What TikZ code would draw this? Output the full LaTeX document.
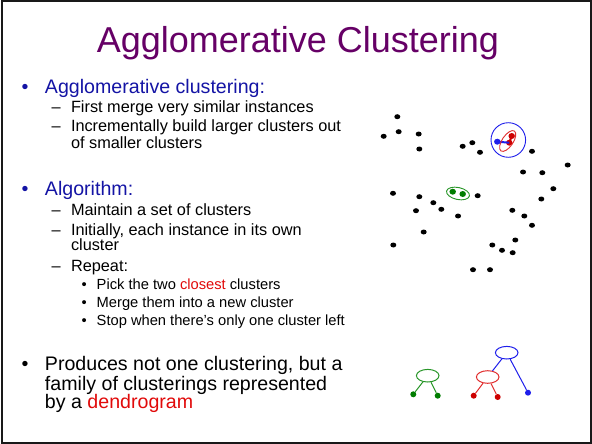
\documentclass[tikz,border=0pt]{standalone}
\usepackage{fontspec}
\setmainfont{Liberation Sans}
\usetikzlibrary{shapes.geometric}
\definecolor{titlepurple}{RGB}{102,0,102}
\definecolor{headblue}{RGB}{20,20,165}
\definecolor{hilite}{RGB}{225,10,10}
\definecolor{cblue}{RGB}{30,30,235}
\definecolor{cred}{RGB}{205,0,0}
\definecolor{credline}{RGB}{225,45,45}
\definecolor{cgreen}{RGB}{0,125,0}
\definecolor{cgreenline}{RGB}{40,150,40}
\tikzset{
  txt/.style={anchor=base west, inner sep=0pt, outer sep=0pt},
  lone/.style={txt, font=\fontsize{19.6}{23}\selectfont},
  ltwo/.style={txt, font=\fontsize{16.3}{19}\selectfont},
  lthree/.style={txt, font=\fontsize{14.7}{17}\selectfont},
  pt/.style={ellipse, fill=black, inner sep=0pt, minimum width=6pt, minimum height=5pt},
  leaf/.style={circle, inner sep=0pt, minimum size=6pt},
  cnode/.style={ellipse, draw, line width=1pt, inner sep=0pt, minimum width=22.6pt, minimum height=12.6pt},
  link/.style={line width=1pt}
}
\begin{document}
\begin{tikzpicture}[x=1pt, y=-1pt]
  % page and frame
  \fill[white] (0,0) rectangle (592,444);
  \useasboundingbox (0,0) rectangle (592,444);
  \draw[line width=2pt, black!90] (1.5,1.5) rectangle (590.5,442.5);

  % title
  \node[anchor=base, inner sep=0pt, text=titlepurple, font=\fontsize{36}{40}\selectfont]
    (title) at (298,53) {Agglomerative Clustering};

  % first block
  \node[lone, text=headblue] (b1) at (21.5,94) {•};
  \node[lone, text=headblue] (h1) at (45,94) {Agglomerative clustering:};
  \node[ltwo] (d1) at (51.5,112) {–};
  \node[ltwo] (t1) at (71,112) {First merge very similar instances};
  \node[ltwo] (d2) at (51.5,131) {–};
  \node[ltwo] (t2) at (71,131) {Incrementally build larger clusters out};
  \node[ltwo] (t2b) at (71,148) {of smaller clusters};

  % second block
  \node[lone, text=headblue] (b2) at (21.5,195) {•};
  \node[lone, text=headblue] (h2) at (45,195) {Algorithm:};
  \node[ltwo] (d3) at (51.5,215.5) {–};
  \node[ltwo] (t3) at (71,215.5) {Maintain a set of clusters};
  \node[ltwo] (d4) at (51.5,235) {–};
  \node[ltwo] (t4) at (71,235) {Initially, each instance in its own};
  \node[ltwo] (t4b) at (71,250) {cluster};
  \node[ltwo] (d5) at (51.5,271) {–};
  \node[ltwo] (t5) at (71,271) {Repeat:};
  \node[lthree] (s1) at (81.5,289) {•};
  \node[lthree] (u1) at (96.7,289) {Pick the two \textcolor{hilite}{closest} clusters};
  \node[lthree] (s2) at (81.5,307) {•};
  \node[lthree] (u2) at (96.7,307) {Merge them into a new cluster};
  \node[lthree] (s3) at (81.5,325) {•};
  \node[lthree] (u3) at (96.7,325) {Stop when there’s only one cluster left};

  % third block
  \node[lone] (b3) at (21.5,370.5) {•};
  \node[lone] (p1t) at (45,370.5) {Produces not one clustering, but a};
  \node[lone] (p2t) at (45,390) {family of clusterings represented};
  \node[lone] (p3t) at (45,408.5) {by a \textcolor{hilite}{dendrogram}};

  % scattered instances
  \foreach \n/\px/\py in {
    1/397.3/116.7, 2/383.7/136.3, 3/398.7/131.7, 4/418.7/134, 5/419.3/149,
    6/462.7/146.3, 7/472.3/142.7, 8/480/152.3, 9/532/151.3, 10/567.7/165,
    11/523/172, 12/542.3/172.7, 13/553.3/188.7, 14/541.3/199, 15/393/193.3,
    16/477.7/195.7, 17/419.3/196.7, 18/433.3/202.7, 19/416/210.7, 20/441.3/209.3,
    21/458/216, 22/512.3/210.3, 23/524.3/216, 24/532/225.3, 25/423.7/232,
    26/393.3/245, 27/515.3/240, 28/492.3/245, 29/502/250.3, 30/512.7/252.7,
    31/473/269.7, 32/490/269.7}
    \node[pt] (p\n) at (\px,\py) {};

  % merged groups
  \node[pt, fill=cgreen, minimum width=6.5pt, minimum height=6pt] (g1) at (452.7,191.7) {};
  \node[pt, fill=cgreen, minimum width=6.5pt, minimum height=6pt] (g2) at (462.7,194) {};
  \node[ellipse, draw=cgreenline, line width=0.9pt, minimum width=23.4pt, minimum height=12pt,
        rotate=-12] (gring) at (458,193.5) {};

  \node[pt, fill=cred, minimum width=6.5pt, minimum height=6pt] (r1) at (511.7,136) {};
  \node[pt, fill=cred, minimum width=6.5pt, minimum height=6pt] (r2) at (509.3,142.7) {};
  \node[pt, fill=cblue, minimum width=6.5pt, minimum height=6pt] (bl) at (497.3,141.7) {};
  \draw[cred, line width=2pt] (r1.center) -- (r2.center);
  \draw[cblue, line width=2pt] (bl.center) -- (r2.center);
  \node[ellipse, draw=credline, line width=0.9pt, minimum width=24pt, minimum height=11pt,
        rotate=56] (rring) at (507.7,141) {};
  \node[circle, draw=cblue, line width=0.9pt, minimum size=34.6pt] (bring) at (508.3,140) {};

  % dendrograms
  \node[cnode, draw=cgreenline] (gd) at (427.7,375.7) {};
  \node[leaf, fill=cgreen] (gl1) at (413.3,394.3) {};
  \node[leaf, fill=cgreen] (gl2) at (437.7,395.7) {};
  \draw[link, cgreenline] (gd) -- (gl1);
  \draw[link, cgreenline] (gd) -- (gl2);

  \node[cnode, draw=cblue] (bd) at (506.7,352.7) {};
  \node[cnode, draw=credline] (rd) at (487.7,377) {};
  \node[leaf, fill=cred] (rl1) at (473.7,395.7) {};
  \node[leaf, fill=cred] (rl2) at (497.7,397) {};
  \node[leaf, fill=cblue] (bl2) at (528,392.7) {};
  \draw[link, credline] (rd) -- (rl1);
  \draw[link, credline] (rd) -- (rl2);
  \draw[link, cblue] (bd) -- (rd);
  \draw[link, cblue] (bd) -- (bl2);
\end{tikzpicture}
\end{document}
